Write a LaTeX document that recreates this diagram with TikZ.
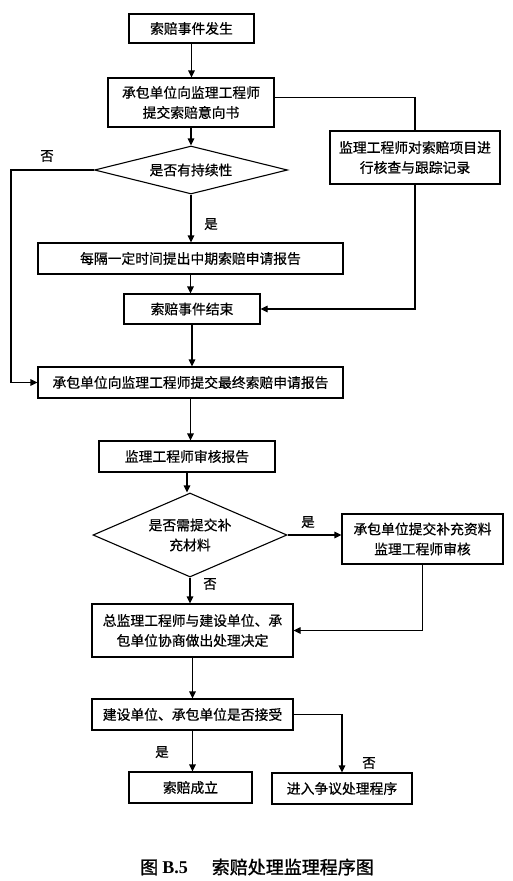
\documentclass[tikz,border=0pt]{standalone}
\usepackage{fontspec}
\newfontfamily\cjk[FakeBold=0.6]{Noto Sans CJK SC}
\newfontfamily\cjkcap[FakeBold=1.2]{Noto Sans CJK SC}
\newfontfamily\latinb{Liberation Serif}
\usetikzlibrary{shapes.geometric,arrows.meta}
\begin{document}
\begin{tikzpicture}[x=1pt,y=-1pt,
  box/.style={draw, line width=1.1pt, inner sep=0pt, align=center,
    font=\cjk\fontsize{13.8}{20}\selectfont},
  dia/.style={draw, diamond, line width=1.1pt, inner sep=0pt, align=center,
    font=\cjk\fontsize{13.8}{20}\selectfont},
  flow/.style={line width=1.1pt, -{Triangle[length=7pt,width=6.5pt]}},
  plain/.style={line width=1.1pt},
  lbl/.style={font=\cjk\fontsize{13.5}{16}\selectfont, inner sep=0pt}]
\useasboundingbox (0,0) rectangle (513,881);
% nodes
\node[box, minimum width=125pt, minimum height=29pt] (b1) at (191.5,28.5) {索赔事件发生};
\node[box, minimum width=166pt, minimum height=49pt] (b2) at (191,102.5) {承包单位向监理工程师\\提交索赔意向书};
\node[box, minimum width=170pt, minimum height=53pt] (b3) at (415,157.5) {监理工程师对索赔项目进\\行核查与跟踪记录};
\node[dia, shape aspect=4, minimum width=193pt, minimum height=48pt] (d1) at (191,170) {是否有持续性};
\node[box, minimum width=305pt, minimum height=31pt] (b4) at (190.5,258.5) {每隔一定时间提出中期索赔申请报告};
\node[box, minimum width=136pt, minimum height=30pt] (b5) at (192,309) {索赔事件结束};
\node[box, minimum width=305pt, minimum height=31pt] (b6) at (190.5,382.5) {承包单位向监理工程师提交最终索赔申请报告};
\node[box, minimum width=176pt, minimum height=31pt] (b7) at (187,456.5) {监理工程师审核报告};
\node[dia, shape aspect=2.3, minimum width=194pt, minimum height=84pt] (d2) at (190,535) {是否需提交补\\充材料};
\node[box, minimum width=161pt, minimum height=50pt] (b8) at (422.5,539) {承包单位提交补充资料\\监理工程师审核};
\node[box, minimum width=201pt, minimum height=53pt] (b9) at (192.5,630.5) {总监理工程师与建设单位、承\\包单位协商做出处理决定};
\node[box, minimum width=201pt, minimum height=31pt] (b10) at (192.5,714.5) {建设单位、承包单位是否接受};
\node[box, minimum width=123pt, minimum height=31pt] (b11) at (190.5,787.5) {索赔成立};
\node[box, minimum width=140pt, minimum height=31pt] (b12) at (342,788.5) {进入争议处理程序};
% corner coordinates
\coordinate (cL1) at (11,170);
\coordinate (cL2) at (11,382.5);
% labels
\node[lbl] (l1) at (47,156) {否};
\node[lbl] (l2) at (211,224) {是};
\node[lbl] (l3) at (308,522) {是};
\node[lbl] (l4) at (210,584) {否};
\node[lbl] (l5) at (162,752) {是};
\node[lbl] (l6) at (369,763) {否};
% connectors
\draw[flow] (b1.south) -- (b1.south |- b2.north);
\draw[plain] ([yshift=5pt]b2.east) -| (b3.north);
\draw[flow] (b2.south) -- (b2.south |- d1.north);
\draw[flow] (d1.west) -- (cL1) -- (cL2) -- (b6.west);
\draw[flow] (d1.south) -- (d1.south |- b4.north);
\draw[flow] (b4.south) -- (b4.south |- b5.north);
\draw[flow] (b3.south) |- (b5.east);
\draw[flow] (b5.south) -- (b5.south |- b6.north);
\draw[flow] (b6.south) -- (b6.south |- b7.north);
\draw[flow] (b7.south) -- (b7.south |- d2.north);
\draw[flow] (d2.east) -- (d2.east -| b8.west);
\draw[flow] (d2.south) -- (d2.south |- b9.north);
\draw[flow] (b8.south) |- (b9.east);
\draw[flow] (b9.south) -- (b9.south |- b10.north);
\draw[flow] (b10.south) -- (b10.south |- b11.north);
\draw[flow] (b10.east) -| (b12.north);
% caption
\node[inner sep=0pt] (cap) at (257,867) {\cjkcap\fontsize{18}{20}\selectfont 图 {\latinb\bfseries B.5}\hspace{24pt}索赔处理监理程序图};
\end{tikzpicture}
\end{document}
